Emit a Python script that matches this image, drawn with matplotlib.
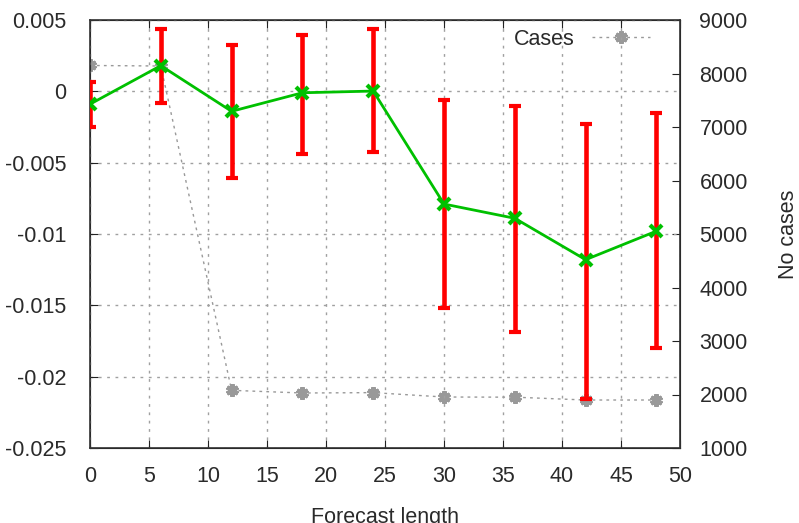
import matplotlib
matplotlib.use("Agg")
import matplotlib.pyplot as plt
import numpy as np

plt.rcParams['font.family'] = ['Liberation Sans', 'DejaVu Sans']
plt.rcParams['font.size'] = 15.5

forecast = [0, 6, 12, 18, 24, 30, 36, 42, 48]
mean_err = [-0.0009, 0.0018, -0.0014, -0.0001, 0.00002, -0.0079, -0.0089, -0.0118, -0.0098]
err_top = [0.00065, 0.0044, 0.00325, 0.00395, 0.00437, -0.0006, -0.00103, -0.0023, -0.0015]
err_bot = [-0.0025, -0.0008, -0.0061, -0.0044, -0.00425, -0.0152, -0.0169, -0.0216, -0.018]
cases = [8150, 8140, 2078, 2028, 2035, 1953, 1950, 1897, 1897]

txt = '#2a2a2a'
fig = plt.figure(figsize=(7.99, 5.23), dpi=100)
ax = fig.add_axes([90/799, 75/523, 590/799, 428/523])
ax.set_xlim(0, 50)
ax.set_ylim(-0.025, 0.005)
ax.set_xticks(np.arange(0, 51, 5))
ax.set_yticks([-0.025, -0.02, -0.015, -0.01, -0.005, 0, 0.005])
ax.set_yticklabels(['-0.025', '-0.02', '-0.015', '-0.01', '-0.005', '0', '0.005'])
ax.grid(True, color='#a0a0a0', linestyle=(0, (2, 4)), linewidth=1)
ax.tick_params(axis='x', direction='in', length=6, top=True, pad=13, colors='#222222', labelcolor=txt)
ax.tick_params(axis='y', direction='in', length=6, right=False, pad=17, colors='#222222', labelcolor=txt)
for s in ax.spines.values():
    s.set_color('#333333')
    s.set_linewidth(1.2)
ax.set_xlabel('Forecast length', labelpad=14, color=txt)

ax2 = ax.twinx()
ax2.set_ylim(1000, 9000)
ax2.set_yticks(np.arange(1000, 9001, 1000))
ax2.tick_params(direction='in', length=6, pad=14, colors='#222222', labelcolor=txt)
ax2.set_ylabel('No cases', labelpad=22, color=txt)
ax2.plot(forecast, cases, color='#999999', linestyle=(0, (2, 3)), linewidth=1,
         marker=(6, 2, 0), markersize=9, markeredgewidth=3, markeredgecolor='#999999', label='Cases')
leg = ax2.legend(loc='upper right', frameon=False, handlelength=2.7, handletextpad=0.8,
                 markerfirst=False, bbox_to_anchor=(0.949, 0.98), borderaxespad=0, borderpad=0)
for t in leg.get_texts():
    t.set_color(txt)

ax.set_zorder(ax2.get_zorder() + 1)
ax.patch.set_visible(False)
yerr = [np.array(mean_err) - np.array(err_bot), np.array(err_top) - np.array(mean_err)]
ax.errorbar(forecast, mean_err, yerr=yerr, fmt='none', ecolor='#ff0000', elinewidth=3.3,
            capsize=4.5, capthick=3, zorder=3)
ax.plot(forecast, mean_err, color='#00c000', linewidth=2, marker='x', markersize=8,
        markeredgewidth=3, zorder=4)

fig.savefig('out.png', dpi=100)
